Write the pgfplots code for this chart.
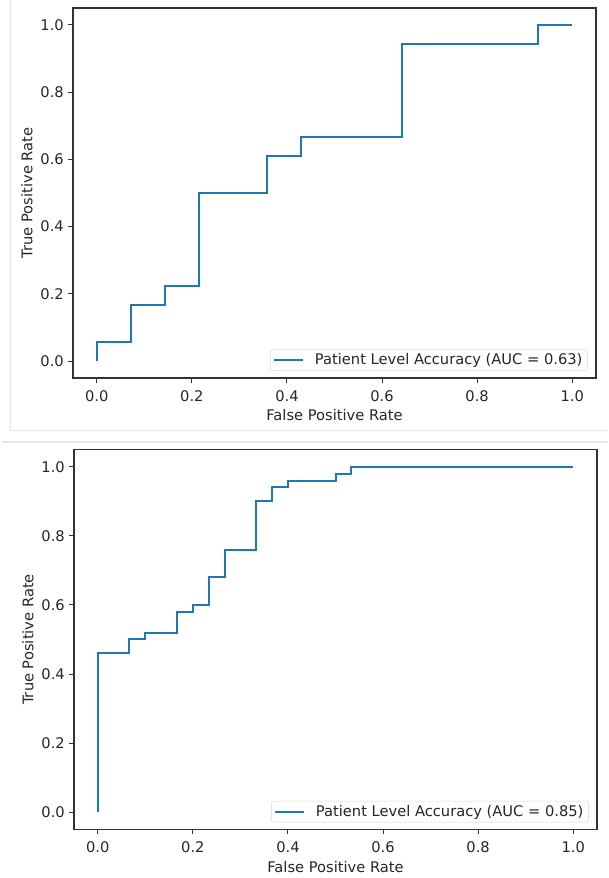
\documentclass[border=0pt]{standalone}
\usepackage{fontspec}
\setmainfont{DejaVu Sans}
\usepackage{pgfplots}
\pgfplotsset{compat=1.18}
\definecolor{mplblue}{HTML}{1F77B4}
\definecolor{legframe}{HTML}{D6D6D6}
\definecolor{panel}{HTML}{E6E6E6}

\pgfplotsset{
  rocaxis/.style={
    scale only axis,
    width=392.25pt,
    xmin=-0.05, xmax=1.05,
    ymin=-0.05, ymax=1.05,
    xtick={0,0.2,0.4,0.6,0.8,1.0},
    ytick={0,0.2,0.4,0.6,0.8,1.0},
    /pgf/number format/.cd, fixed, fixed zerofill, precision=1, assume math mode=true,
    /pgfplots/.cd,
    tick align=outside,
    tick pos=left,
    major tick length=3.4pt,
    every tick/.style={line width=0.7pt, black!80},
    axis line style={line width=0.8pt, black!80},
    tick label style={font=\fontsize{11}{13}\selectfont, text=black!85},
    label style={font=\fontsize{11}{13}\selectfont, text=black!85},
    xticklabel style={yshift=-2.5pt},
    xlabel={False Positive Rate},
    ylabel={True Positive Rate},
    xlabel style={yshift=1pt},
    ylabel style={yshift=-1pt},
    legend cell align=left,
    legend style={at={(1,0)}, anchor=south east, xshift=-6pt, yshift=5.25pt,
      draw=legframe, rounded corners=2pt, fill=white,
      font=\fontsize{11}{13}\selectfont, text=black!85,
      inner xsep=2pt, inner ysep=1pt},
    legend image code/.code={\draw[#1] (0pt,0pt) -- (22pt,0pt); \path (28pt,0pt);},
  },
  rocline/.style={mplblue, line width=1.5pt, no markers, line join=miter},
}

\begin{document}
\begin{tikzpicture}
\path[use as bounding box] (0,0) rectangle (456pt,658.5pt);
% faint screenshot panel edges
\draw[panel, line width=0.6pt] (7.5pt,658.5pt) -- (7.5pt,336pt) -- (456pt,336pt);
\draw[panel, line width=0.8pt] (1.5pt,327pt) -- (456pt,327pt);

% top panel: AUC = 0.63
\begin{axis}[rocaxis, height=277.5pt, at={(54.75pt,375pt)}, anchor=south west]
\addplot[rocline] coordinates {
(0,0) (0,0.0556) (0.0714,0.0556) (0.0714,0.1667) (0.1429,0.1667)
(0.1429,0.2222) (0.2143,0.2222) (0.2143,0.5) (0.3571,0.5)
(0.3571,0.6111) (0.4286,0.6111) (0.4286,0.6667) (0.6429,0.6667)
(0.6429,0.9444) (0.9286,0.9444) (0.9286,1) (1,1)
};
\addlegendentry{Patient Level Accuracy (AUC = 0.63)}
\end{axis}

% bottom panel: AUC = 0.85
\begin{axis}[rocaxis, height=285pt, at={(55.5pt,36.375pt)}, anchor=south west]
\addplot[rocline] coordinates {
(0,0) (0,0.46) (0.0667,0.46) (0.0667,0.50) (0.1,0.50) (0.1,0.52)
(0.1667,0.52) (0.1667,0.58) (0.2,0.58) (0.2,0.60) (0.2333,0.60)
(0.2333,0.68) (0.2667,0.68) (0.2667,0.76) (0.3333,0.76) (0.3333,0.90)
(0.3667,0.90) (0.3667,0.94) (0.4,0.94) (0.4,0.96) (0.5,0.96)
(0.5,0.98) (0.5333,0.98) (0.5333,1) (1,1)
};
\addlegendentry{Patient Level Accuracy (AUC = 0.85)}
\end{axis}
\end{tikzpicture}
\end{document}
